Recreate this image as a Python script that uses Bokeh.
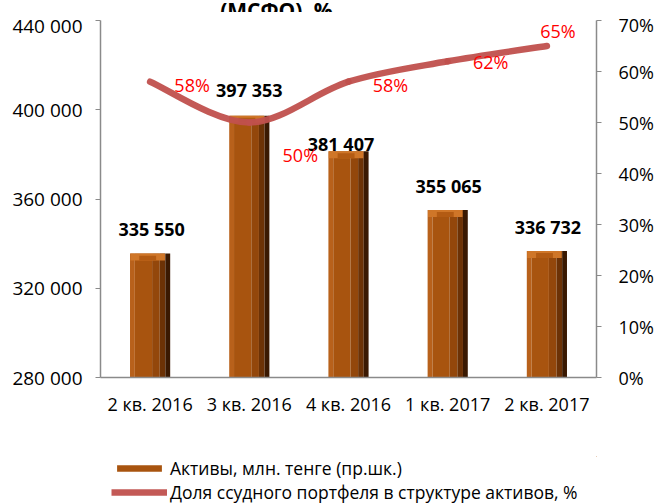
import numpy as np
from bokeh.plotting import figure
from bokeh.layouts import column
from bokeh.models import (Range1d, LinearAxis, FixedTicker, LabelSet, ColumnDataSource,
                          Legend, LegendItem, Label)
from bokeh.core.properties import value
from bokeh.embed import file_html
from bokeh.resources import INLINE

# ---------------- data ----------------
categories = ["2 кв. 2016", "3 кв. 2016", "4 кв. 2016", "1 кв. 2017", "2 кв. 2017"]
assets = [335550, 397353, 381407, 355065, 336732]          # left axis
loan_share = [58, 50, 58, 62, 65]                           # right axis, %
asset_ticks = [280000, 320000, 360000, 400000, 440000]
share_ticks = [0, 10, 20, 30, 40, 50, 60, 70]
series_names = ["Активы, млн. тенге (пр.шк.)",
                "Доля ссудного портфеля в структуре активов, %"]
title_fragment = "(МСФО), %"

# ---------------- label placement (screen px, style only) ----------------
asset_label_dx = [1.5, 0, -7.5, 1, 1]
asset_label_dy = [25, 26, 7, 24, 24]
share_label_dx = [42, 51, 42, 43, 11]
share_label_dy = [-3, -32, -3, -1, 15]

FONT = "Open Sans"
AXIS_COLOR = "#8a8a8a"
BAR_MAIN = "#a8540f"
LINE_COLOR = "#c0504d"
X_RANGE = (-0.5, 4.5)


def bare(fig):
    fig.axis.visible = False
    fig.grid.visible = False
    fig.outline_line_color = None
    fig.background_fill_color = "white"
    fig.border_fill_color = "white"


# ---------------- title strip (title is cut off at the top, as in the reference) -------
tf = figure(width=658, height=12, x_range=Range1d(*X_RANGE), y_range=Range1d(0, 12),
            output_backend="svg", toolbar_location=None,
            min_border_left=0, min_border_right=0, min_border_top=0, min_border_bottom=0)
bare(tf)
tf.add_layout(Label(x=1.274, y=2.5, text=title_fragment, text_align="center",
                    text_baseline="alphabetic", text_font=FONT, text_font_size="21px",
                    text_font_style="bold", text_color="black"))

# ---------------- main chart ----------------
p = figure(width=658, height=444, x_range=Range1d(*X_RANGE),
           y_range=Range1d(asset_ticks[0], asset_ticks[-1]),
           output_backend="svg", toolbar_location=None,
           min_border_left=100, min_border_right=62, min_border_top=8,
           min_border_bottom=79)
p.extra_y_ranges = {"pct": Range1d(share_ticks[0], share_ticks[-1])}
p.outline_line_color = None
p.grid.visible = False
p.background_fill_color = "white"
p.border_fill_color = "white"

# left axis
ya = p.yaxis[0]
ya.ticker = FixedTicker(ticks=asset_ticks)
ya.major_label_overrides = {t: f"{t:,}".replace(",", " ") for t in asset_ticks}
ya.axis_line_color = AXIS_COLOR
ya.axis_line_width = 1.5
ya.major_tick_line_color = AXIS_COLOR
ya.major_tick_out = 5
ya.major_tick_in = 0
ya.minor_tick_line_color = None
ya.major_label_text_font = FONT
ya.major_label_text_font_size = "19px"
ya.major_label_text_color = "black"
ya.major_label_standoff = 13

# right axis
ra = LinearAxis(y_range_name="pct", ticker=FixedTicker(ticks=share_ticks))
ra.major_label_overrides = {t: f"{t}%" for t in share_ticks}
ra.axis_line_color = AXIS_COLOR
ra.axis_line_width = 1.5
ra.major_tick_line_color = AXIS_COLOR
ra.major_tick_out = 5
ra.major_tick_in = 0
ra.minor_tick_line_color = None
ra.major_label_text_font = FONT
ra.major_label_text_font_size = "18px"
ra.major_label_text_color = "black"
ra.major_label_standoff = 17
p.add_layout(ra, "right")

# bottom axis
xa = p.xaxis[0]
xa.ticker = FixedTicker(ticks=list(range(len(categories))))
xa.major_label_overrides = {i: c for i, c in enumerate(categories)}
xa.axis_line_color = AXIS_COLOR
xa.axis_line_width = 1.5
xa.major_tick_line_color = None
xa.minor_tick_line_color = None
xa.major_label_text_font = FONT
xa.major_label_text_font_size = "18px"
xa.major_label_text_color = "black"
xa.major_label_standoff = 8

# ---------------- bars (cylinder-like shading) ----------------
idx = np.arange(len(categories), dtype=float)
vals = np.array(assets, dtype=float)
base = asset_ticks[0]
W = 0.405
strips = [(0.00, 0.12, "#b8611b"), (0.12, 0.55, BAR_MAIN), (0.55, 0.74, "#93470b"),
          (0.74, 0.88, "#6c3206"), (0.88, 1.00, "#3a1902")]
for l, r, col in strips:
    p.vbar(x=idx - W / 2 + (l + r) / 2 * W, width=(r - l) * W, bottom=base, top=vals,
           fill_color=col, line_color=None)
px_per_unit = 357.0 / (asset_ticks[-1] - asset_ticks[0])
band = 7 / px_per_unit
p.vbar(x=idx - W * 0.06, width=W * 0.86, bottom=vals - band, top=vals,
       fill_color="#cf7628", line_color=None)
p.vbar(x=idx - W * 0.06, width=W * 0.42, bottom=vals - band, top=vals - band * 0.3,
       fill_color="#b35b13", line_color=None)

bar_src = ColumnDataSource(dict(x=idx, y=vals,
                                text=[f"{v:,}".replace(",", " ") for v in assets],
                                dx=asset_label_dx, dy=asset_label_dy))
p.add_layout(LabelSet(source=bar_src, x="x", y="y", text="text", x_offset="dx", y_offset="dy",
                      text_align="center", text_baseline="middle", text_font=value(FONT),
                      text_font_size=value("18px"), text_font_style="bold", text_color="black"))

# ---------------- smoothed line (Catmull-Rom as Bezier) ----------------
ys = np.array(loan_share, dtype=float)
P = np.column_stack([idx, ys])
Pp = np.vstack([P[0], P, P[-1]])
c0 = Pp[1:-2] + (Pp[2:-1] - Pp[0:-3]) / 6.0
c1 = Pp[2:-1] - (Pp[3:] - Pp[1:-2]) / 6.0
bez = dict(x0=P[:-1, 0], y0=P[:-1, 1], x1=P[1:, 0], y1=P[1:, 1],
           cx0=c0[:, 0], cy0=c0[:, 1], cx1=c1[:, 0], cy1=c1[:, 1])
p.bezier(**bez, y_range_name="pct", line_color=LINE_COLOR, line_width=6.5, line_alpha=0.95,
         line_cap="round")

pct_src = ColumnDataSource(dict(x=idx, y=ys, text=[f"{v}%" for v in loan_share],
                                dx=share_label_dx, dy=share_label_dy))
p.add_layout(LabelSet(source=pct_src, x="x", y="y", text="text", x_offset="dx", y_offset="dy",
                      y_range_name="pct", text_align="center", text_baseline="middle",
                      text_font=value(FONT), text_font_size=value("18px"),
                      text_color="#ff0000"))

# ---------------- legend strip (separate figure below the chart) ----------------
lg = figure(width=658, height=48, x_range=Range1d(-20, -19), y_range=Range1d(-20, -19),
            output_backend="svg", toolbar_location=None,
            min_border_left=0, min_border_right=0, min_border_top=0, min_border_bottom=0)
bare(lg)
bar_r = lg.vbar(x=idx, width=W, bottom=base, top=vals, fill_color=BAR_MAIN, line_color=None)
line_r = lg.bezier(**bez, line_color=LINE_COLOR, line_width=6.5, line_alpha=0.95)

legend_style = dict(orientation="vertical", glyph_width=56, glyph_height=8, label_height=20,
                    padding=0, margin=0, border_line_color=None, background_fill_alpha=0,
                    label_text_font=FONT, label_text_font_size="17.5px", label_standoff=3,
                    label_text_color="black")
lg.add_layout(Legend(items=[LegendItem(label=series_names[0], renderers=[bar_r])],
                     location=(11, 24), **legend_style))
lg.add_layout(Legend(items=[LegendItem(label=series_names[1], renderers=[line_r])],
                     location=(11, 0), **legend_style))

layout = column(tf, p, lg, spacing=0)
open("out.html", "w").write(file_html(layout, INLINE))
